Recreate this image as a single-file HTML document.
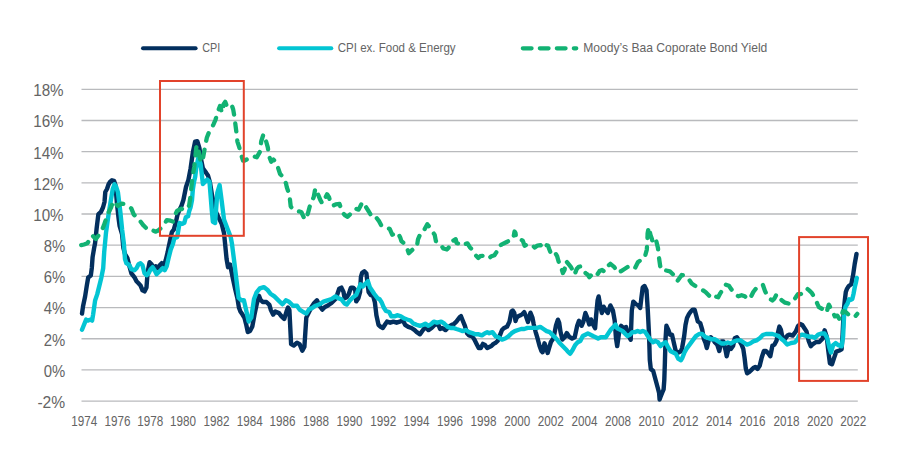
<!DOCTYPE html>
<html><head><meta charset="utf-8"><title>CPI vs Moody's Baa</title>
<style>
html,body{margin:0;padding:0;background:#fff;}
body{width:900px;height:471px;overflow:hidden;}
svg{display:block;}
text{font-family:"Liberation Sans",sans-serif;fill:#646464;}
</style></head><body>
<svg width="900" height="471" viewBox="0 0 900 471">
<rect x="0" y="0" width="900" height="471" fill="#fff"/>

<line x1="81.5" y1="89.30" x2="857.8" y2="89.30" stroke="#b9babd" stroke-width="1.3"/>
<line x1="81.5" y1="120.48" x2="857.8" y2="120.48" stroke="#b9babd" stroke-width="1.3"/>
<line x1="81.5" y1="151.66" x2="857.8" y2="151.66" stroke="#b9babd" stroke-width="1.3"/>
<line x1="81.5" y1="182.84" x2="857.8" y2="182.84" stroke="#b9babd" stroke-width="1.3"/>
<line x1="81.5" y1="214.02" x2="857.8" y2="214.02" stroke="#b9babd" stroke-width="1.3"/>
<line x1="81.5" y1="245.20" x2="857.8" y2="245.20" stroke="#b9babd" stroke-width="1.3"/>
<line x1="81.5" y1="276.38" x2="857.8" y2="276.38" stroke="#b9babd" stroke-width="1.3"/>
<line x1="81.5" y1="307.56" x2="857.8" y2="307.56" stroke="#b9babd" stroke-width="1.3"/>
<line x1="81.5" y1="338.74" x2="857.8" y2="338.74" stroke="#b9babd" stroke-width="1.3"/>
<line x1="81.5" y1="369.92" x2="857.8" y2="369.92" stroke="#b9babd" stroke-width="1.3"/>
<line x1="81.5" y1="401.10" x2="857.8" y2="401.10" stroke="#b9babd" stroke-width="1.3"/>
<text x="33.2" y="96.1" font-size="16" textLength="30.4" lengthAdjust="spacingAndGlyphs">18%</text>
<text x="33.2" y="127.3" font-size="16" textLength="30.4" lengthAdjust="spacingAndGlyphs">16%</text>
<text x="33.2" y="158.5" font-size="16" textLength="30.4" lengthAdjust="spacingAndGlyphs">14%</text>
<text x="33.2" y="189.6" font-size="16" textLength="30.4" lengthAdjust="spacingAndGlyphs">12%</text>
<text x="33.2" y="220.8" font-size="16" textLength="30.4" lengthAdjust="spacingAndGlyphs">10%</text>
<text x="43.7" y="252.0" font-size="16" textLength="21.5" lengthAdjust="spacingAndGlyphs">8%</text>
<text x="43.7" y="283.2" font-size="16" textLength="21.5" lengthAdjust="spacingAndGlyphs">6%</text>
<text x="43.7" y="314.4" font-size="16" textLength="21.5" lengthAdjust="spacingAndGlyphs">4%</text>
<text x="43.7" y="345.5" font-size="16" textLength="21.5" lengthAdjust="spacingAndGlyphs">2%</text>
<text x="43.7" y="376.7" font-size="16" textLength="21.5" lengthAdjust="spacingAndGlyphs">0%</text>
<text x="37.4" y="407.9" font-size="16" textLength="27.8" lengthAdjust="spacingAndGlyphs">-2%</text>
<text x="71.3" y="426" font-size="14.3" textLength="26" lengthAdjust="spacingAndGlyphs">1974</text>
<text x="104.5" y="426" font-size="14.3" textLength="26" lengthAdjust="spacingAndGlyphs">1976</text>
<text x="137.3" y="426" font-size="14.3" textLength="26" lengthAdjust="spacingAndGlyphs">1978</text>
<text x="170.1" y="426" font-size="14.3" textLength="26" lengthAdjust="spacingAndGlyphs">1980</text>
<text x="203.4" y="426" font-size="14.3" textLength="26" lengthAdjust="spacingAndGlyphs">1982</text>
<text x="236.7" y="426" font-size="14.3" textLength="26" lengthAdjust="spacingAndGlyphs">1984</text>
<text x="269.6" y="426" font-size="14.3" textLength="26" lengthAdjust="spacingAndGlyphs">1986</text>
<text x="302.9" y="426" font-size="14.3" textLength="26" lengthAdjust="spacingAndGlyphs">1988</text>
<text x="336.5" y="426" font-size="14.3" textLength="26" lengthAdjust="spacingAndGlyphs">1990</text>
<text x="370.2" y="426" font-size="14.3" textLength="26" lengthAdjust="spacingAndGlyphs">1992</text>
<text x="403.4" y="426" font-size="14.3" textLength="26" lengthAdjust="spacingAndGlyphs">1994</text>
<text x="437.0" y="426" font-size="14.3" textLength="26" lengthAdjust="spacingAndGlyphs">1996</text>
<text x="470.6" y="426" font-size="14.3" textLength="26" lengthAdjust="spacingAndGlyphs">1998</text>
<text x="504.2" y="426" font-size="14.3" textLength="26" lengthAdjust="spacingAndGlyphs">2000</text>
<text x="537.8" y="426" font-size="14.3" textLength="26" lengthAdjust="spacingAndGlyphs">2002</text>
<text x="571.4" y="426" font-size="14.3" textLength="26" lengthAdjust="spacingAndGlyphs">2004</text>
<text x="605.1" y="426" font-size="14.3" textLength="26" lengthAdjust="spacingAndGlyphs">2008</text>
<text x="638.6" y="426" font-size="14.3" textLength="26" lengthAdjust="spacingAndGlyphs">2010</text>
<text x="672.4" y="426" font-size="14.3" textLength="26" lengthAdjust="spacingAndGlyphs">2012</text>
<text x="706.0" y="426" font-size="14.3" textLength="26" lengthAdjust="spacingAndGlyphs">2014</text>
<text x="739.6" y="426" font-size="14.3" textLength="26" lengthAdjust="spacingAndGlyphs">2016</text>
<text x="773.4" y="426" font-size="14.3" textLength="26" lengthAdjust="spacingAndGlyphs">2018</text>
<text x="806.9" y="426" font-size="14.3" textLength="26" lengthAdjust="spacingAndGlyphs">2020</text>
<text x="840.3" y="426" font-size="14.3" textLength="26" lengthAdjust="spacingAndGlyphs">2022</text>
<line x1="143" y1="48.2" x2="195.6" y2="48.2" stroke="#032f5e" stroke-width="4" stroke-linecap="round"/>
<text x="202.3" y="52.4" font-size="13.5" textLength="18" lengthAdjust="spacingAndGlyphs">CPI</text>
<line x1="279.1" y1="48.3" x2="331.3" y2="48.3" stroke="#03c5d3" stroke-width="4" stroke-linecap="round"/>
<text x="337.8" y="52.4" font-size="13.5" textLength="117.8" lengthAdjust="spacingAndGlyphs">CPI ex. Food &amp; Energy</text>
<line x1="522.8" y1="48.3" x2="576.3" y2="48.3" stroke="#12b273" stroke-width="4.2" stroke-linecap="round" stroke-dasharray="8.8 8.2"/>
<text x="583.3" y="52.4" font-size="13.5" textLength="184" lengthAdjust="spacingAndGlyphs">Moody&#8217;s Baa Coporate Bond Yield</text>
<polyline points="82.0,313.6 83.0,306.5 85.1,296.5 86.9,285.0 88.2,277.5 90.8,275.5 91.8,268.0 92.6,257.0 93.1,254.1 94.1,248.1 95.1,243.0 96.7,227.7 98.4,214.1 100.9,212.0 103.0,207.5 104.5,202.0 105.3,192.0 107.0,189.0 108.5,184.5 110.0,182.0 112.0,180.3 114.0,180.8 115.4,185.0 117.0,204.0 118.7,219.2 119.6,226.0 122.1,234.5 123.4,248.0 125.0,254.0 127.4,258.1 129.4,266.2 131.4,273.3 134.5,277.3 136.5,281.3 138.5,283.3 140.5,285.4 142.5,290.4 144.5,291.4 146.5,287.4 147.6,272.3 149.6,262.2 151.6,264.2 153.6,269.2 155.6,266.2 157.6,268.2 159.7,265.2 161.7,263.2 163.7,267.2 165.7,260.2 167.7,252.1 168.6,247.5 170.2,240.0 171.9,232.0 173.8,229.6 175.7,222.9 177.6,214.3 179.6,209.6 181.5,205.7 183.4,200.0 184.5,194.5 186.0,187.0 188.4,180.0 190.6,168.4 192.8,152.8 195.1,141.7 197.3,141.2 199.5,148.4 200.6,157.3 202.9,168.4 206.2,172.9 208.0,175.5 210.0,182.5 212.0,195.0 214.0,204.0 215.5,211.0 218.5,217.4 221.8,224.1 224.0,233.0 225.3,245.9 226.6,259.2 228.0,267.2 230.1,264.5 232.8,278.0 235.2,289.3 237.4,298.2 238.9,307.5 240.4,311.6 242.5,314.6 244.5,318.0 246.3,325.0 247.8,332.0 250.0,331.0 252.3,326.5 254.5,314.6 256.7,304.2 259.0,295.8 260.5,299.7 262.7,302.0 266.4,302.0 269.4,304.9 270.9,310.1 273.1,314.6 275.3,311.6 279.0,313.1 281.3,316.1 284.2,319.0 286.5,311.6 288.0,307.5 289.4,310.1 291.1,344.1 293.8,345.5 297.0,342.8 299.6,344.1 302.3,350.8 304.4,346.8 306.3,317.6 308.9,312.3 311.6,307.0 314.2,303.0 316.9,300.3 319.5,305.7 322.2,309.6 324.9,307.0 327.5,305.7 331.5,303.0 335.5,299.0 337.1,295.0 339.2,288.7 341.4,287.6 343.5,291.9 344.6,298.2 346.7,297.2 348.8,294.0 350.9,287.6 353.1,287.6 355.2,289.7 356.2,301.4 358.4,298.2 360.1,291.9 360.9,277.0 362.2,272.7 364.3,271.2 366.4,273.5 367.3,281.2 368.6,291.9 370.7,295.0 373.2,296.1 374.9,302.5 376.4,315.2 378.5,324.8 380.7,326.9 382.8,328.0 384.9,324.8 387.0,321.6 390.2,322.7 393.4,321.6 396.6,322.7 399.8,321.6 403.0,320.5 405.1,324.8 408.3,326.9 411.5,328.0 414.7,330.1 416.8,332.2 420.0,334.3 422.1,331.2 425.3,326.9 428.5,330.1 431.6,328.0 434.8,324.8 438.0,323.7 440.1,329.0 442.3,328.0 445.5,330.1 448.6,326.9 451.8,324.8 453.2,324.7 456.4,321.6 459.6,317.3 461.0,316.2 462.7,320.5 464.9,325.8 467.0,333.2 469.1,335.4 472.3,336.4 474.4,339.6 476.6,343.9 478.7,348.1 480.8,348.1 482.9,343.9 485.0,344.9 487.2,348.1 489.3,347.0 491.4,346.0 493.5,343.9 495.7,342.8 497.8,340.7 499.9,335.4 502.0,330.0 504.2,327.9 506.3,326.9 507.0,326.7 509.5,321.6 511.5,311.5 512.7,310.5 514.3,313.0 515.5,321.0 516.5,318.0 517.8,316.5 520.4,315.3 522.5,314.0 524.2,312.1 526.1,316.5 528.0,322.0 529.0,318.0 530.5,312.7 532.5,317.8 533.7,324.2 535.6,331.8 537.5,338.2 539.5,345.8 541.4,350.9 542.6,352.2 544.5,343.3 545.8,347.1 547.7,353.0 549.0,348.4 550.9,342.0 553.5,338.2 556.0,325.5 557.9,319.7 559.2,322.9 560.5,331.8 562.4,339.5 564.9,336.9 566.8,333.1 569.4,336.9 572.1,338.5 574.7,337.2 577.2,325.8 579.0,320.7 581.6,325.8 583.3,321.9 585.4,313.0 587.4,318.1 589.2,324.5 591.0,319.4 593.0,324.5 595.1,328.3 596.1,315.6 597.6,300.3 598.6,296.5 600.2,305.4 601.9,313.0 603.7,306.7 605.8,310.5 607.8,313.0 610.4,305.4 612.9,310.5 614.7,320.7 616.0,338.5 617.2,346.1 619.0,333.4 621.1,325.8 623.6,328.3 626.1,327.0 628.7,336.0 630.7,339.8 631.8,310.5 633.3,301.6 635.8,304.1 638.4,305.4 640.2,307.9 641.4,297.7 642.7,287.5 644.5,286.0 646.5,290.1 647.8,310.5 649.1,336.0 649.8,360.0 650.8,369.0 653.2,371.0 655.9,381.0 657.8,388.0 659.1,393.0 659.6,399.5 660.5,397.0 662.3,392.5 663.6,389.5 664.3,380.0 664.9,362.0 665.5,340.0 666.4,325.8 668.2,329.6 670.0,334.7 672.0,334.7 674.0,343.6 675.8,351.2 678.4,352.5 680.9,351.2 682.1,348.0 684.2,336.0 685.5,325.0 687.0,318.0 689.0,314.0 690.8,311.5 692.7,309.6 694.6,309.6 696.2,315.5 697.8,321.5 700.2,323.0 702.3,330.0 703.8,339.0 705.5,343.0 706.8,348.0 708.7,340.4 710.8,337.2 712.9,339.3 715.0,342.5 717.2,344.6 719.3,351.0 721.4,341.4 723.5,341.4 725.7,351.0 726.7,356.3 728.9,346.7 731.0,348.9 733.1,345.7 734.8,338.2 736.9,337.2 739.0,340.4 741.6,344.6 743.3,349.0 744.6,358.0 745.8,368.4 747.1,373.3 749.0,372.2 751.2,370.1 753.3,368.0 755.4,366.9 757.5,369.0 759.7,365.8 761.8,357.3 763.9,351.0 766.0,351.0 768.1,353.1 770.3,356.3 772.4,345.7 774.5,344.6 776.6,340.4 778.1,331.9 779.4,326.6 780.9,329.7 782.1,335.6 784.2,339.9 787.4,335.6 789.6,334.6 792.7,335.6 795.9,331.4 798.0,326.1 800.2,324.0 802.3,325.0 804.4,328.2 806.5,331.4 808.7,341.0 810.8,346.3 812.9,344.1 816.1,342.0 819.3,342.0 822.5,338.8 824.6,330.3 826.7,336.7 828.4,351.6 829.9,363.2 832.0,364.3 834.1,357.9 836.3,351.6 839.4,350.5 841.6,349.4 842.6,334.6 843.7,311.2 844.8,300.6 845.8,292.1 847.1,288.6 848.8,286.0 851.3,284.3 853.0,275.8 854.7,264.0 856.5,254.0" fill="none" stroke="#032f5e" stroke-width="4.4" stroke-linejoin="round" stroke-linecap="round"/>
<polyline points="82.0,329.7 84.0,324.7 86.1,319.6 88.1,320.6 90.1,319.6 92.1,320.6 93.1,314.6 95.1,300.5 97.2,294.4 99.2,286.4 101.2,278.3 103.2,268.2 104.2,252.1 106.0,232.8 108.6,214.1 111.1,198.9 112.8,188.7 114.5,184.4 116.2,187.0 117.9,192.1 120.4,212.4 122.1,229.4 123.8,243.0 125.0,259.0 126.4,263.2 129.4,265.2 131.4,269.2 134.5,270.2 136.5,268.2 138.5,264.2 140.5,263.2 142.5,265.2 144.5,273.3 146.5,275.3 148.6,273.3 150.6,269.2 152.6,267.2 154.6,270.2 156.6,274.3 158.6,272.3 160.7,270.2 162.7,268.2 164.7,270.2 166.7,266.2 168.6,258.0 170.7,249.6 172.9,244.0 174.3,238.2 177.2,237.2 178.6,228.7 179.6,223.0 182.4,223.9 184.3,222.9 185.8,217.2 188.1,216.2 189.1,211.5 190.5,207.6 192.0,200.0 192.8,190.0 194.0,182.0 195.2,176.8 196.2,168.4 198.4,157.3 200.6,164.0 202.9,184.0 205.1,181.8 207.3,179.5 209.5,181.8 211.8,210.7 212.9,221.9 215.1,223.0 217.3,192.9 219.6,185.1 221.8,201.8 224.0,219.6 227.4,228.5 230.7,237.0 231.9,243.3 234.6,264.5 236.5,280.4 238.6,297.7 241.2,300.3 243.9,300.3 246.0,309.6 248.7,321.6 251.3,317.6 254.0,299.0 256.6,292.4 259.8,288.4 263.8,287.1 267.3,289.7 270.4,293.7 274.4,296.4 278.4,300.3 282.4,304.3 285.8,300.3 289.0,301.7 293.0,305.7 297.0,305.7 299.6,309.6 303.6,312.3 306.3,313.6 308.9,309.6 311.6,308.3 315.6,305.7 319.5,304.3 323.5,301.7 327.5,300.3 331.5,299.0 335.5,296.4 338.2,298.2 341.4,299.3 344.6,303.5 346.7,304.6 349.9,300.4 353.1,297.2 356.2,295.0 358.4,289.7 360.5,284.4 362.6,286.6 365.8,283.4 367.9,281.2 370.0,287.6 372.2,290.8 374.3,294.0 377.5,298.2 379.6,299.3 381.7,302.5 383.9,307.8 386.0,311.0 389.2,312.0 391.3,316.3 394.5,316.3 397.7,315.2 400.8,316.3 404.0,318.4 407.2,319.5 410.4,320.5 413.6,323.7 416.8,324.8 420.0,325.8 423.1,324.8 425.3,323.7 428.5,325.8 431.6,323.7 433.8,321.6 437.0,322.7 441.2,321.6 444.4,323.7 447.6,326.9 450.7,328.0 453.2,327.9 456.4,329.0 459.6,330.0 462.7,331.1 465.9,330.0 469.1,332.2 472.3,333.2 475.5,334.3 478.7,334.3 481.9,335.4 485.0,333.2 487.2,332.2 489.3,333.2 492.5,332.2 495.7,336.4 498.9,337.5 502.0,339.6 505.2,338.5 508.4,336.4 511.6,333.2 514.8,331.1 518.0,330.0 521.2,329.0 524.3,329.0 527.5,327.9 530.7,327.9 533.9,327.9 537.1,327.9 540.3,326.9 543.5,329.0 546.6,331.1 549.8,332.2 553.0,335.4 556.2,338.5 559.4,342.8 562.6,346.0 565.8,349.2 567.5,351.2 570.1,353.8 572.6,350.0 575.2,344.9 577.7,342.3 580.3,341.0 582.8,336.0 585.4,334.7 587.9,333.4 590.5,334.7 593.0,336.0 595.6,337.2 598.1,338.5 600.7,337.2 603.2,337.2 605.8,337.2 608.3,333.4 610.9,329.6 613.4,327.0 615.4,324.5 617.2,328.3 619.8,329.6 622.3,330.9 624.9,333.4 627.4,336.0 630.0,334.7 632.5,332.1 635.1,332.1 637.6,330.9 640.2,332.1 642.7,330.9 645.3,332.1 647.8,336.0 650.4,339.8 652.9,342.3 655.4,341.0 658.0,342.3 660.5,346.1 663.1,343.6 665.6,342.3 668.2,347.4 670.7,351.2 673.3,352.5 675.8,353.8 678.4,358.9 680.9,360.2 682.1,358.4 684.2,353.1 686.4,348.9 689.6,344.6 692.7,340.4 695.9,336.1 699.1,334.0 702.3,334.0 705.5,337.2 708.7,338.2 711.9,339.3 715.0,339.3 718.2,341.4 721.4,343.5 724.6,343.5 727.8,342.5 731.0,343.5 734.2,341.4 737.3,340.4 740.5,340.4 743.7,342.5 746.9,344.6 750.1,343.5 753.3,341.4 756.5,340.4 759.7,338.2 762.8,335.0 766.0,334.0 769.2,334.0 772.4,334.0 775.6,335.0 778.8,336.1 781.5,339.1 784.0,341.0 787.2,344.5 791.1,343.0 794.9,342.3 797.4,339.5 799.1,335.6 802.3,334.6 805.5,335.6 808.7,336.7 811.8,336.7 815.0,337.8 818.2,334.6 821.4,333.5 824.6,333.5 827.1,337.8 829.3,347.3 831.0,352.6 833.1,345.2 835.6,343.1 838.4,345.2 841.6,346.3 843.1,336.7 844.1,315.5 845.4,307.0 847.6,303.5 849.1,299.3 850.7,299.9 852.3,299.0 853.5,294.0 854.8,287.0 855.8,283.0 856.8,278.0" fill="none" stroke="#03c5d3" stroke-width="4.4" stroke-linejoin="round" stroke-linecap="round"/>
<polyline points="81.2,245.1 84.0,244.5 87.3,243.3 89.5,240.0 92.2,235.3 95.9,239.0 98.5,235.5 101.4,231.7 103.8,225.6 106.3,218.2 108.1,213.3 111.2,207.2 113.0,201.1 115.5,203.6 117.9,206.0 121.6,203.6 125.2,204.2 128.9,206.6 131.3,208.4 133.8,214.6 136.8,217.0 139.9,220.7 143.6,225.6 146.0,228.0 148.5,227.4 150.9,229.8 155.8,231.7 158.2,230.5 163.1,226.2 166.8,220.1 170.5,220.7 172.9,221.5 174.5,216.0 177.0,211.0 181.5,208.6 183.5,210.0 185.3,209.6 189.1,205.7 190.5,196.0 191.5,186.0 192.4,178.0 194.3,166.5 196.3,147.4 198.2,145.4 199.1,155.0 201.0,162.7 202.9,158.8 204.9,147.4 206.8,137.8 208.7,133.0 210.6,130.2 213.5,124.4 215.4,120.0 217.0,115.0 218.5,110.0 220.0,106.0 221.3,110.5 222.5,112.5 223.5,104.5 225.2,101.8 226.6,105.5 228.4,108.0 230.3,106.3 232.0,106.0 233.2,109.5 234.5,117.0 235.4,124.4 236.4,132.1 237.4,141.6 239.3,147.4 241.2,155.0 243.1,160.7 244.5,160.6 248.9,158.4 253.4,156.2 256.7,157.3 260.0,151.7 261.2,141.5 263.4,134.3 265.6,139.6 267.8,147.3 269.0,156.2 271.2,161.7 273.4,159.5 275.6,161.7 277.9,167.3 280.1,174.0 282.3,176.2 284.5,180.5 286.0,183.5 286.9,187.6 288.3,191.5 289.8,198.2 290.7,206.3 292.5,208.8 294.6,209.6 297.4,211.1 301.3,212.0 304.1,218.0 306.0,219.5 308.0,213.0 309.9,205.8 312.2,200.1 313.7,197.2 315.1,189.6 316.5,188.6 318.0,194.3 320.4,200.1 322.3,203.4 323.2,202.0 327.1,194.3 329.0,197.2 330.4,202.0 332.8,205.8 335.7,204.4 339.5,203.9 342.4,212.5 345.2,215.4 347.6,216.8 351.9,212.5 355.7,208.7 358.6,209.6 361.5,203.9 364.4,202.5 365.7,206.6 368.8,211.5 371.2,215.6 374.3,215.0 379.2,221.4 381.1,225.1 383.6,227.6 389.7,228.8 392.2,234.7 395.3,233.7 397.7,232.5 400.2,237.4 401.4,241.1 405.7,244.8 407.6,249.7 408.8,253.2 412.5,249.7 416.8,247.3 418.0,239.3 419.9,234.9 423.0,233.1 424.8,228.8 427.3,224.2 430.4,228.2 434.7,234.9 435.9,241.1 438.4,242.3 440.8,244.8 443.3,248.5 447.0,249.5 448.8,247.3 450.7,241.9 452.5,241.0 455.7,239.2 456.6,242.9 459.4,243.9 461.8,245.8 464.2,244.4 467.5,243.4 469.8,247.2 472.2,249.6 476.0,255.7 478.3,258.0 480.2,256.2 483.5,255.7 488.7,258.5 491.5,256.2 494.4,255.2 498.2,249.6 499.1,246.2 501.9,244.4 506.7,242.0 510.4,240.1 513.3,238.5 514.5,231.5 515.5,233.0 516.2,238.0 519.9,239.2 522.7,240.6 524.6,245.8 528.4,243.9 530.0,244.3 532.1,245.3 534.8,247.5 537.4,245.6 540.6,245.1 541.7,247.3 543.8,244.2 545.9,245.1 548.0,245.6 549.1,248.8 551.2,254.4 552.8,254.1 554.9,252.5 557.1,256.2 558.6,261.5 561.3,267.9 562.9,273.0 564.5,270.0 566.1,261.0 568.2,263.6 570.8,266.8 573.5,271.6 574.6,274.5 576.7,269.0 578.8,266.8 580.9,266.3 583.1,270.0 585.7,273.2 587.8,274.8 589.4,277.2 591.5,274.8 594.2,276.9 596.8,275.3 599.5,271.1 602.1,270.0 604.3,271.6 607.5,266.3 610.4,263.8 614.1,266.8 617.8,272.7 620.8,271.3 624.5,269.0 629.0,266.1 632.0,267.5 634.9,268.3 637.9,262.3 641.6,259.4 644.6,257.9 646.8,249.7 647.3,242.3 647.6,233.4 648.7,227.0 650.5,234.9 652.0,239.3 652.8,243.5 654.2,240.5 656.3,241.2 658.0,248.2 658.7,255.7 660.2,266.1 663.2,271.3 666.1,270.5 669.8,271.3 673.6,275.0 675.8,278.7 677.3,281.2 681.7,275.0 685.4,275.7 688.5,278.8 691.7,283.5 694.9,285.7 699.1,287.8 702.3,289.9 705.5,292.0 708.7,295.2 711.9,298.4 715.0,296.3 718.2,297.3 720.4,293.1 722.5,289.9 725.7,284.6 728.9,285.7 731.0,288.9 735.2,294.2 738.4,296.3 741.6,295.2 744.8,296.3 748.0,299.5 751.2,296.3 753.3,292.0 756.5,287.8 759.7,285.7 762.8,284.6 765.0,291.0 767.1,295.2 769.2,298.4 772.4,300.5 774.5,298.4 776.6,294.2 778.8,297.3 782.0,300.5 785.1,302.7 789.4,303.7 792.6,301.6 795.8,297.3 797.9,294.2 800.8,294.1 804.5,291.3 806.9,288.5 809.2,290.4 811.6,292.7 815.3,298.8 817.6,304.4 819.0,307.2 824.2,310.0 826.5,312.6 828.8,304.6 830.7,308.2 832.6,311.9 834.9,316.4 837.3,315.6 840.1,320.0 842.9,311.2 845.7,311.9 848.5,314.7 852.2,317.3 855.0,316.6 857.3,313.8" fill="none" stroke="#12b273" stroke-width="4.3" stroke-linejoin="round" stroke-linecap="round" stroke-dasharray="8 9"/>
<rect x="160" y="81" width="83.8" height="154.8" fill="none" stroke="#e2432b" stroke-width="2"/>
<rect x="799.1" y="237.1" width="68.9" height="143.8" fill="none" stroke="#e2432b" stroke-width="2"/>
</svg>
</body></html>
